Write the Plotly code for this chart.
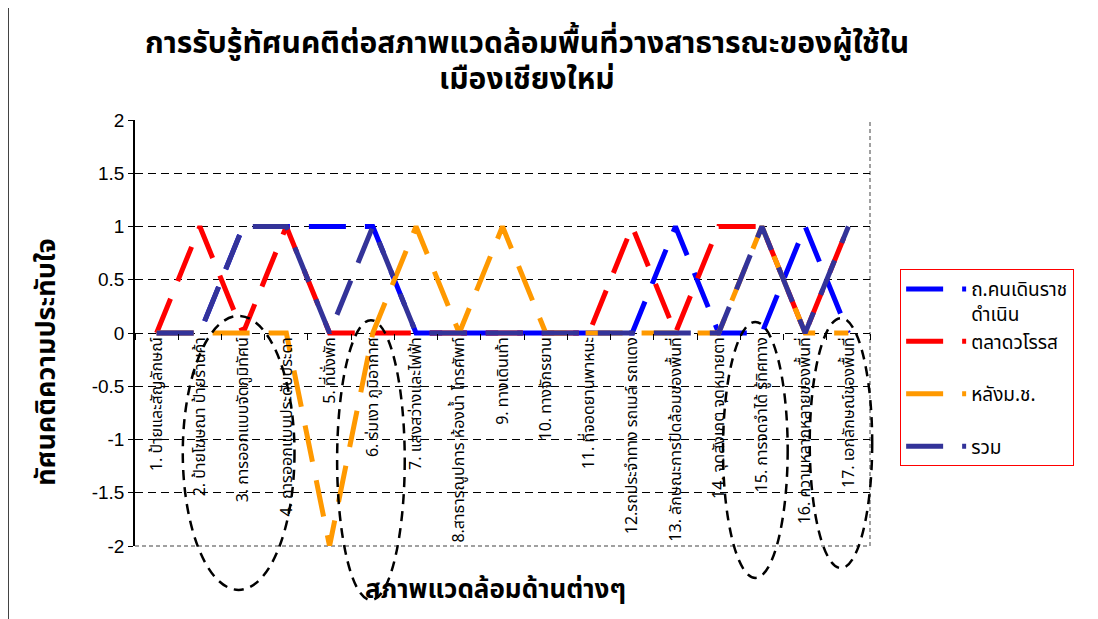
import plotly.graph_objects as go

categories = [
    "1. ป้ายและสัญลักษณ์",
    "2. ป้ายโฆษณา ป้ายร้านค้า",
    "3. การออกแบบจัดภูมิทัศน์",
    "4. การออกแบบประดับประดา",
    "5. ที่นั่งพัก",
    "6. ร่มเงา ภูมิอากาศ",
    "7. แสงสว่างและไฟฟ้า",
    "8.สาธารณูปการ ห้องน้ำ โทรศัพท์",
    "9. ทางเดินเท้า",
    "10. ทางจักรยาน",
    "11. ที่จอดยานพาหนะ",
    "12.รถประจำทาง รถเมล์ รถแดง",
    "13. ลักษณะการปิดล้อมของพื้นที่",
    "14. จุดสังเกต จุดหมายตา",
    "15. การจดจำได้ รู้ทิศทาง",
    "16. ความหลากหลายของพื้นที่",
    "17. เอกลักษณ์ของพื้นที่",
]

ratchadamnoen = [0, 0, 1, 1, 1, 1, 0, 0, 0, 0, 0, 0, 1, 0, 0, 1, 0]
warorot = [0, 1, 0, 1, 0, 0, 0, 0, 0, 0, 0, 1, 0, 1, 1, 0, 1]
lang_mor_chor = [0, 0, 0, 0, -2, 0, 1, 0, 1, 0, 0, 0, 0, 0, 1, 0, 0]
total = [0, 0, 1, 1, 0, 1, 0, 0, 0, 0, 0, 0, 0, 0, 1, 0, 1]

series_names = ["ถ.คนเดินราช<br>ดำเนิน", "ตลาดวโรรส<br>\u00a0", "หลังม.ช.<br>\u00a0", "รวม"]
series_values = [ratchadamnoen, warorot, lang_mor_chor, total]
series_colors = ["#0000FF", "#FF0000", "#FF9900", "#333399"]

y_tick_values = [-2, -1.5, -1, -0.5, 0, 0.5, 1, 1.5, 2]
y_tick_labels = ["-2", "-1.5", "-1", "-0.5", "0", "0.5", "1", "1.5", "2"]

title_lines = ["การรับรู้ทัศนคติต่อสภาพแวดล้อมพื้นที่วางสาธารณะของผู้ใช้ใน", "เมืองเชียงใหม่"]
x_title = "สภาพแวดล้อมด้านต่างๆ"
y_title = "ทัศนคติความประทับใจ"

FONT = "Tahoma, 'Noto Sans Thai', Loma, 'Liberation Sans', Arial, sans-serif"

fig = go.Figure()
for name, vals, col in zip(series_names, series_values, series_colors):
    fig.add_trace(go.Scatter(
        x=categories, y=vals, name=name, mode="lines",
        line=dict(color=col, width=5, dash="37px,19px"),
        legendgroup=name,
    ))

# dashed ellipses (decorations) in paper coords
ellipses = [
    (0.065, -0.103, 0.217, 0.540),
    (0.275, -0.127, 0.367, 0.530),
    (0.800, -0.075, 0.888, 0.526),
    (0.918, -0.052, 1.003, 0.535),
]
shapes = []
for x0, y0, x1, y1 in ellipses:
    shapes.append(dict(type="circle", xref="paper", yref="paper",
                       x0=x0, y0=y0, x1=x1, y1=y1,
                       line=dict(color="black", width=2.5, dash="10px,7px"),
                       layer="above"))
# plot-area border right and bottom (gray dotted)
shapes.append(dict(type="line", xref="paper", yref="paper", x0=0, x1=1, y0=0, y1=0,
                   line=dict(color="white", width=3), layer="between"))
shapes.append(dict(type="line", xref="paper", yref="paper", x0=0, x1=1, y0=0, y1=0,
                   line=dict(color="#A0A0A0", width=2, dash="4px,3px"), layer="between"))
shapes.append(dict(type="line", xref="paper", yref="paper", x0=1, x1=1, y0=0, y1=1,
                   line=dict(color="#A0A0A0", width=2, dash="4px,3px"), layer="between"))
# outer frame left line
shapes.append(dict(type="line", xref="paper", yref="paper", x0=-0.1728, x1=-0.1728,
                   y0=-0.2, y1=1.3, line=dict(color="black", width=1.5)))

annotations = [
    dict(text="<b>%s</b>" % title_lines[0], xref="paper", yref="paper",
         x=0.533, y=1.178, xanchor="center", yanchor="middle",
         showarrow=False, font=dict(size=30, color="black", family=FONT)),
    dict(text="<b>%s</b>" % title_lines[1], xref="paper", yref="paper",
         x=0.533, y=1.094, xanchor="center", yanchor="middle",
         showarrow=False, font=dict(size=30, color="black", family=FONT)),
    dict(text="<b>%s</b>" % x_title, xref="paper", yref="paper",
         x=0.49, y=-0.103, xanchor="center", yanchor="middle", showarrow=False,
         font=dict(size=26, color="black", family=FONT)),
    dict(text="<b>%s</b>" % y_title, xref="paper", yref="paper",
         x=-0.12, y=0.432, xanchor="center", yanchor="middle", textangle=-90,
         showarrow=False, font=dict(size=27, color="black", family=FONT)),
]

fig.update_layout(
    width=1090, height=611,
    margin=dict(l=127, r=228, t=112, b=73, autoexpand=False),
    paper_bgcolor="white", plot_bgcolor="white",
    font=dict(family=FONT, color="black"),
    showlegend=True,
    legend=dict(x=1.041, y=0.65, xanchor="left", yanchor="top",
                bordercolor="#FF0000", borderwidth=1, bgcolor="white",
                font=dict(size=19, color="black", family=FONT),
                tracegroupgap=0, itemwidth=60, valign="top"),
    shapes=shapes, annotations=annotations,
    xaxis=dict(type="category", anchor="free", position=0.5, automargin=False,
               tickson="boundaries", ticks="outside", ticklen=6, tickcolor="black",
               tickangle=-90, showline=False, showgrid=False, zeroline=False,
               tickfont=dict(size=16, color="black", family=FONT),
               range=[-0.5, 16.5]),
    yaxis=dict(range=[-2, 2], tickvals=y_tick_values, ticktext=y_tick_labels,
               automargin=False,
               showgrid=True, gridcolor="black", gridwidth=1, griddash="8px,5px",
               zeroline=False, showline=True, linecolor="black", linewidth=1.5,
               ticks="outside", ticklen=5, tickcolor="black",
               tickfont=dict(size=19, color="black", family="Arial, 'Liberation Sans'")),
)

fig.write_html("out.html")
